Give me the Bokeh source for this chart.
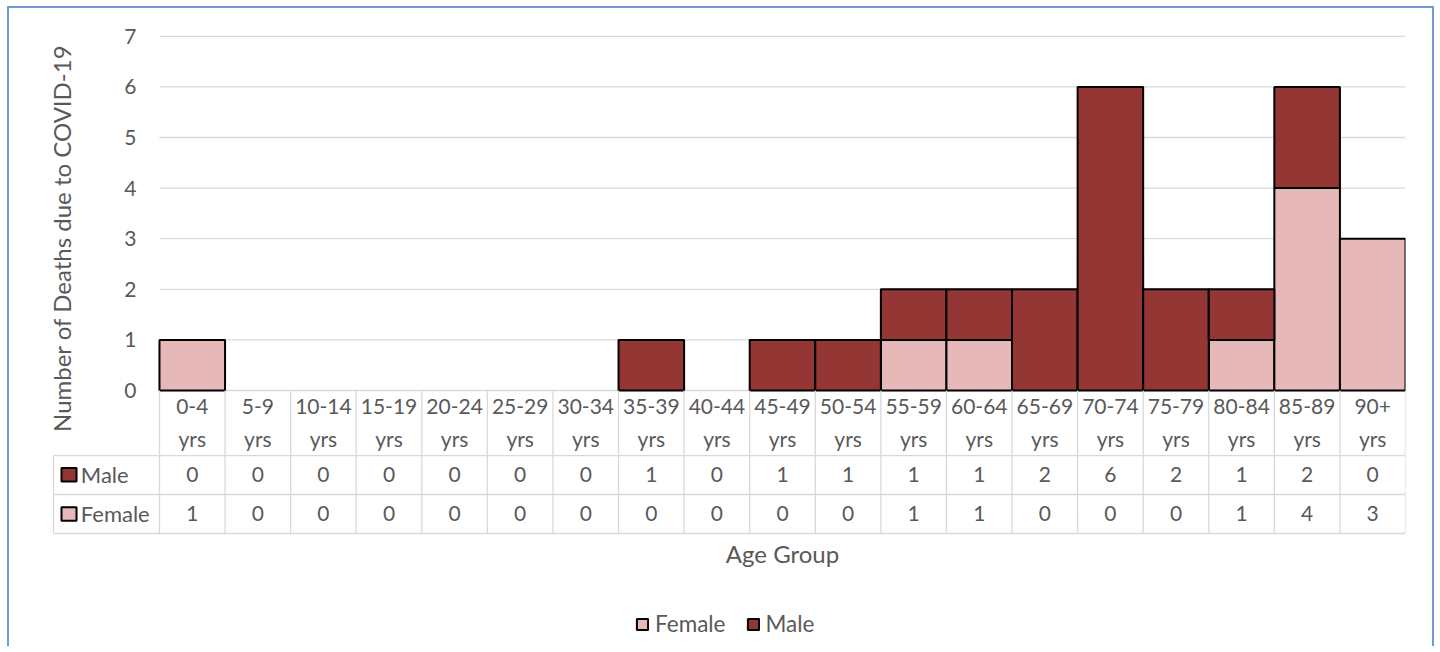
import numpy as np
from bokeh.plotting import figure
from bokeh.models import Range1d, FixedTicker, Legend, LegendItem, ColumnDataSource
from bokeh.core.properties import value
from bokeh.embed import file_html
from bokeh.resources import INLINE

# ---------------- data ----------------
age_groups = ["0-4 yrs", "5-9 yrs", "10-14 yrs", "15-19 yrs", "20-24 yrs",
              "25-29 yrs", "30-34 yrs", "35-39 yrs", "40-44 yrs", "45-49 yrs",
              "50-54 yrs", "55-59 yrs", "60-64 yrs", "65-69 yrs", "70-74 yrs",
              "75-79 yrs", "80-84 yrs", "85-89 yrs", "90+ yrs"]
male = [0, 0, 0, 0, 0, 0, 0, 1, 0, 1, 1, 1, 1, 2, 6, 2, 1, 2, 0]
female = [1, 0, 0, 0, 0, 0, 0, 0, 0, 0, 0, 1, 1, 0, 0, 0, 1, 4, 3]
y_ticks = [0, 1, 2, 3, 4, 5, 6, 7]
series_names = ["Female", "Male"]
y_title = "Number of Deaths due to COVID-19"
x_title = "Age Group"

# ---------------- style ----------------
FONT = "Lato"
TXT = "#595959"
MALE_C = "#943634"
FEMALE_C = "#E6B8B7"
GRID_C = "#D9D9D9"
FRAME_C = "#7299D3"

n = len(age_groups)
xc = np.arange(n) + 0.5

# table layout (data units below zero)
ROW_CAT1 = -0.316
ROW_CAT2 = -0.94
ROW_SPLIT1 = -1.285
ROW_MALE = -1.665
ROW_SPLIT2 = -2.055
ROW_FEMALE = -2.44
ROW_BOTTOM = -2.826
HDR_LEFT = -1.616
X_TITLE_Y = -3.22

p = figure(frame_width=1360, frame_height=616, output_backend="svg",
           toolbar_location=None,
           x_range=Range1d(-1.738, n), y_range=Range1d(-4.98, 7.194),
           min_border_left=36, min_border_right=27, min_border_top=18,
           min_border_bottom=4)
p.outline_line_color = None
p.background_fill_color = "white"
p.border_fill_color = "white"
p.styles = {"margin-left": "7px", "margin-top": "6px",
            "border-top": f"2px solid {FRAME_C}",
            "border-left": f"2px solid {FRAME_C}",
            "border-right": f"2px solid {FRAME_C}"}

# no default grids / x axis
p.xgrid.visible = False
p.ygrid.visible = False
p.xaxis.visible = False

# y axis (labels pulled in next to the bars)
p.yaxis.ticker = FixedTicker(ticks=y_ticks)
p.yaxis.axis_line_color = None
p.yaxis.major_tick_line_color = None
p.yaxis.minor_tick_line_color = None
p.yaxis.major_tick_out = 0
p.yaxis.major_tick_in = 0
p.yaxis.major_label_standoff = -91
p.yaxis.major_label_text_font = FONT
p.yaxis.major_label_text_font_size = "21px"
p.yaxis.major_label_text_color = TXT

# horizontal gridlines at the ticks, only over the category area
p.segment(x0=[0] * len(y_ticks), x1=[n] * len(y_ticks), y0=y_ticks, y1=y_ticks,
          line_color=GRID_C, line_width=1.3)

# bars (stacked, female at bottom)
fi = [i for i in range(n) if female[i] > 0]
mi = [i for i in range(n) if male[i] > 0]
src_f = ColumnDataSource(dict(x=xc[fi], bottom=[0] * len(fi),
                              top=[female[i] for i in fi]))
src_m = ColumnDataSource(dict(x=xc[mi], bottom=[female[i] for i in mi],
                              top=[female[i] + male[i] for i in mi]))
rf = p.vbar(x="x", bottom="bottom", top="top", width=1.0, source=src_f,
            fill_color=FEMALE_C, line_color="black", line_width=2)
rm = p.vbar(x="x", bottom="bottom", top="top", width=1.0, source=src_m,
            fill_color=MALE_C, line_color="black", line_width=2)

# data table grid
bounds = np.arange(n + 1)
p.segment(x0=bounds, x1=bounds, y0=[0] * (n + 1), y1=[ROW_BOTTOM] * (n + 1),
          line_color=GRID_C, line_width=1.3)
hl = [ROW_SPLIT1, ROW_SPLIT2, ROW_BOTTOM]
p.segment(x0=[HDR_LEFT] * 3, x1=[n] * 3, y0=hl, y1=hl,
          line_color=GRID_C, line_width=1.3)
p.segment(x0=[HDR_LEFT], x1=[HDR_LEFT], y0=[ROW_SPLIT1], y1=[ROW_BOTTOM],
          line_color=GRID_C, line_width=1.3)

# data table text
cat1 = [g.split(" ")[0] for g in age_groups]
cat2 = [g.split(" ")[1] for g in age_groups]
tkw = dict(text_align="center", text_baseline="middle", text_font=value(FONT),
           text_font_size="21px", text_color=TXT)
p.text(x=xc, y=[ROW_CAT1] * n, text=cat1, **tkw)
p.text(x=xc, y=[ROW_CAT2] * n, text=cat2, **tkw)
p.text(x=xc, y=[ROW_MALE] * n, text=[str(v) for v in male], **tkw)
p.text(x=xc, y=[ROW_FEMALE] * n, text=[str(v) for v in female], **tkw)

# table row headers
hdr_y = [ROW_MALE, ROW_FEMALE]
p.quad(left=[-1.494] * 2, right=[-1.265] * 2,
       top=[y + 0.135 for y in hdr_y], bottom=[y - 0.135 for y in hdr_y],
       fill_color=[MALE_C, FEMALE_C], line_color="black", line_width=2)
p.text(x=[-1.2] * 2, y=hdr_y, text=[series_names[1], series_names[0]],
       text_align="left", text_baseline="middle", text_font=value(FONT),
       text_font_size="22px", text_color=TXT)

# axis titles
p.text(x=[-1.494], y=[3.01], text=[y_title], angle=np.pi / 2,
       text_align="center", text_baseline="middle", text_font=value(FONT),
       text_font_size="24px", text_color=TXT)
p.text(x=[n / 2], y=[X_TITLE_Y], text=[x_title], text_align="center",
       text_baseline="middle", text_font=value(FONT), text_font_size="24px",
       text_color=TXT)

# legend
legend = Legend(items=[LegendItem(label=series_names[0], renderers=[rf]),
                       LegendItem(label=series_names[1], renderers=[rm])],
                orientation="horizontal", location=(590, 5),
                glyph_width=14, glyph_height=14, label_standoff=6, spacing=20,
                padding=0, margin=0, border_line_color=None,
                background_fill_alpha=0, label_text_font=FONT,
                label_text_font_size="22.5px", label_text_color=TXT)
p.add_layout(legend, "center")

open("out.html", "w").write(file_html(p, INLINE))
